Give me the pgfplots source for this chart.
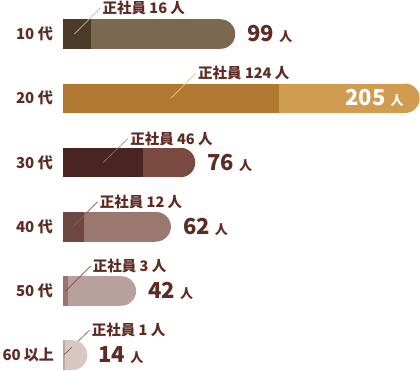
\documentclass[border=0pt]{standalone}
\usepackage{fontspec}
\setmainfont{Noto Sans CJK JP}
\usepackage{pgfplots}
\pgfplotsset{compat=1.18}
\definecolor{txt}{HTML}{5E2B22}
\definecolor{dA}{HTML}{4B3A28}\definecolor{lA}{HTML}{7A6850}\definecolor{nA}{HTML}{C8B8A0}
\definecolor{dB}{HTML}{B07830}\definecolor{lB}{HTML}{D09C50}\definecolor{nB}{HTML}{E8C478}
\definecolor{dC}{HTML}{4A2420}\definecolor{lC}{HTML}{7A4A40}\definecolor{nC}{HTML}{A87870}
\definecolor{dD}{HTML}{6E4840}\definecolor{lD}{HTML}{9A7870}\definecolor{nD}{HTML}{8A5A50}
\definecolor{dE}{HTML}{9A7472}\definecolor{lE}{HTML}{B8A09C}\definecolor{nE}{HTML}{7A5048}
\definecolor{dF}{HTML}{C0A8A4}\definecolor{lF}{HTML}{D8C8C4}\definecolor{nF}{HTML}{7A5048}
\pgfdeclareplotmark{halfR}{%
  \pgfpathmoveto{\pgfqpoint{-0.8pt}{\pgfplotmarksize}}%
  \pgfpathlineto{\pgfqpoint{0pt}{\pgfplotmarksize}}%
  \pgfpatharc{90}{-90}{\pgfplotmarksize}%
  \pgfpathlineto{\pgfqpoint{-0.8pt}{-\pgfplotmarksize}}%
  \pgfpathclose\pgfusepathqfill}
\newcommand{\tot}[1]{{\fontsize{22}{22}\selectfont\bfseries #1}\hspace{5pt}{\fontsize{13}{13}\selectfont\bfseries 人}}
\begin{document}
\begin{tikzpicture}
\begin{axis}[
  width=420pt, height=370pt, scale only axis,
  xmin=-36.21, xmax=205.17,
  ymin=-0.53, ymax=5.23, y dir=reverse,
  hide axis, clip=false,
  every axis plot/.append style={bar shift=0pt},
]
\pgfplotsset{
  body/.style={xbar, bar width=29.5pt, draw=none, fill=#1, x filter/.expression={x-8.48}},
  cap/.style={only marks, mark=halfR, mark size=14.75pt, color=#1, x filter/.expression={x-8.48}},
  staff/.style={xbar, bar width=29.5pt, draw=none, fill=#1},
}
\addplot[body=lA] coordinates {(99,0)};
\addplot[cap=lA] coordinates {(99,0)};
\addplot[staff=dA] coordinates {(16,0)};
\addplot[body=lB] coordinates {(205,1)};
\addplot[cap=lB] coordinates {(205,1)};
\addplot[staff=dB] coordinates {(124,1)};
\addplot[body=lC] coordinates {(76,2)};
\addplot[cap=lC] coordinates {(76,2)};
\addplot[staff=dC] coordinates {(46,2)};
\addplot[body=lD] coordinates {(62,3)};
\addplot[cap=lD] coordinates {(62,3)};
\addplot[staff=dD] coordinates {(12,3)};
\addplot[body=lE] coordinates {(42,4)};
\addplot[cap=lE] coordinates {(42,4)};
\addplot[staff=dE] coordinates {(3,4)};
\addplot[body=lF] coordinates {(14,5)};
\addplot[cap=lF] coordinates {(14,5)};
\addplot[staff=dF] coordinates {(1,5)};
% category labels
\begin{scope}[every node/.style={anchor=east, text=txt, font=\fontsize{15}{15}\selectfont\bfseries, inner sep=0pt, xshift=-10pt}]
\node at (axis cs:0,0) {10 代};
\node at (axis cs:0,1) {20 代};
\node at (axis cs:0,2) {30 代};
\node at (axis cs:0,3) {40 代};
\node at (axis cs:0,4) {50 代};
\node[xshift=1pt] at (axis cs:0,5) {60\hspace{3pt}以上};
\end{scope}
% annotations
\begin{scope}[every node/.style={anchor=west, text=txt, font=\fontsize{14.5}{15}\selectfont\bfseries, inner sep=2pt}]
\draw[nA, line width=0.6pt] (axis cs:6.5,0) -- ++(26pt,26pt) node {正社員 16 人};
\draw[nB, line width=0.6pt] (axis cs:62,1) -- ++(25pt,25pt) node {正社員 124 人};
\draw[nC, line width=0.6pt] (axis cs:23,2) -- ++(25pt,24pt) node {正社員 46 人};
\draw[nD, line width=0.6pt] (axis cs:5.5,3) -- ++(25pt,25pt) node {正社員 12 人};
\draw[nE, line width=0.6pt] (axis cs:1.5,4) -- ++(25pt,25pt) node {正社員 3 人};
\draw[nF, line width=0.6pt] (axis cs:0.3,5) -- ++(26pt,25pt) node {正社員 1 人};
\end{scope}
% totals
\node[anchor=east, text=white, xshift=-15pt, inner sep=1pt] at (axis cs:205,1) {\tot{205}};
\begin{scope}[every node/.style={anchor=west, text=txt, xshift=11pt, inner sep=1pt}]
\node at (axis cs:99,0) {\tot{99}};
\node at (axis cs:76,2) {\tot{76}};
\node at (axis cs:62,3) {\tot{62}};
\node at (axis cs:42,4) {\tot{42}};
\node[xshift=-1pt] at (axis cs:14,5) {\tot{14}};
\end{scope}
\end{axis}
\pgfresetboundingbox
\path (current axis.south west) rectangle (current axis.north east);
\end{tikzpicture}
\end{document}
